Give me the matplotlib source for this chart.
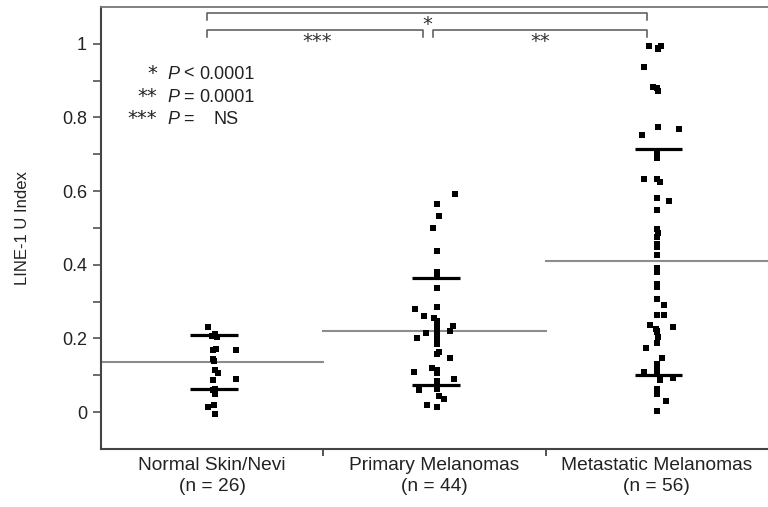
import matplotlib
matplotlib.use("Agg")
import matplotlib.pyplot as plt
import numpy as np

plt.rcParams['font.family'] = ['Liberation Sans', 'DejaVu Sans']

# categories
categories = ["Normal Skin/Nevi", "Primary Melanomas", "Metastatic Melanomas"]
n_counts = [26, 44, 56]

# LINE-1 U index values, with small horizontal jitter (group units)
normal_vals = [0.232, 0.212, 0.205, 0.208, 0.170, 0.172, 0.168, 0.143, 0.138, 0.114,
               0.107, 0.087, 0.090, 0.064, 0.060, 0.049, 0.013, 0.019, -0.004]
normal_dx = [-0.018, 0.014, 0.023, 0.0, 0.005, 0.018, 0.108, 0.005, 0.009, 0.014,
             0.027, 0.005, 0.108, 0.014, 0.005, 0.014, -0.018, 0.009, 0.014]

primary_vals = [0.592, 0.565, 0.533, 0.501, 0.437, 0.381, 0.370, 0.336, 0.286, 0.279,
                0.261, 0.255, 0.248, 0.232, 0.235, 0.221, 0.216, 0.218, 0.207, 0.200,
                0.191, 0.185, 0.164, 0.158, 0.148, 0.110, 0.120, 0.114, 0.107, 0.090,
                0.085, 0.077, 0.060, 0.062, 0.043, 0.035, 0.019, 0.013]
primary_dx = [0.092, 0.010, 0.020, -0.005, 0.010, 0.010, 0.010, 0.010, 0.013, -0.088,
              -0.046, 0.000, 0.013, 0.010, 0.082, 0.070, -0.040, 0.010, 0.010, -0.080,
              0.010, 0.013, 0.020, 0.013, 0.070, -0.091, -0.013, 0.010, 0.010, 0.089,
              0.010, 0.010, -0.070, 0.010, 0.020, 0.044, -0.035, 0.010]

metastatic_vals = [0.993, 0.990, 0.995, 0.985, 0.937, 0.882, 0.879, 0.872, 0.774, 0.769,
                   0.753, 0.705, 0.689, 0.632, 0.632, 0.626, 0.581, 0.574, 0.549, 0.496,
                   0.486, 0.475, 0.457, 0.449, 0.427, 0.392, 0.381, 0.347, 0.339, 0.307,
                   0.291, 0.264, 0.264, 0.236, 0.232, 0.226, 0.220, 0.218, 0.205, 0.188,
                   0.175, 0.146, 0.132, 0.119, 0.108, 0.105, 0.087, 0.094, 0.062, 0.049,
                   0.031, 0.004]
metastatic_dx = [-0.035, 0.004, 0.019, 0.006, -0.056, -0.016, 0.002, 0.004, 0.004, 0.101,
                 -0.068, 0.002, 0.002, -0.056, 0.002, 0.014, 0.002, 0.056, 0.002, 0.002,
                 0.007, 0.002, 0.002, 0.002, 0.002, 0.002, 0.002, 0.002, 0.002, 0.002,
                 0.032, 0.000, 0.032, -0.031, 0.074, -0.004, 0.002, 0.000, 0.004, 0.002,
                 -0.050, 0.022, 0.002, 0.002, -0.056, 0.002, 0.014, 0.074, 0.002, 0.002,
                 0.041, 0.002]

# summary lines per group
group_means = [0.137, 0.221, 0.410]
upper_bars = [0.209, 0.363, 0.714]
lower_bars = [0.064, 0.075, 0.100]

# significance annotations
legend_stars = ["*", "**", "***"]
legend_ops = ["<", "=", "="]
legend_vals = ["0.0001", "0.0001", "NS"]

fig = plt.figure(figsize=(7.68, 5.07), dpi=100)
ax = fig.add_axes([0.1315, 0.1144, 0.8685, 0.8718])

spine_col = '#444444'
txt_col = '#222222'
star_font = ['DejaVu Sans']
vals_all = [normal_vals, primary_vals, metastatic_vals]
dx_all = [normal_dx, primary_dx, metastatic_dx]

for i in range(3):
    c = i + 0.5
    ax.plot([i, i + 1], [group_means[i]] * 2, color='#8c8c8c', lw=1.5, zorder=1)
    for q in (upper_bars[i], lower_bars[i]):
        ax.plot([c - 0.1, c + 0.115], [q, q], color='black', lw=2.3, zorder=2,
                solid_capstyle='butt')
    x = c + np.array(dx_all[i])
    ax.scatter(x, vals_all[i], marker='s', s=15, color='black', linewidths=0, zorder=3)

ax.set_xlim(0, 3)
ax.set_ylim(-0.1, 1.1)

# y axis
ax.set_yticks([0, 0.2, 0.4, 0.6, 0.8, 1.0])
ax.set_yticklabels(['0', '0.2', '0.4', '0.6', '0.8', '1'])
ax.set_yticks(np.arange(0.1, 1.1, 0.2), minor=True)
ax.tick_params(axis='y', which='both', length=6, width=1.1, color=spine_col,
               labelsize=13, pad=4, labelcolor=txt_col)
ax.set_ylabel("LINE-1 U Index", fontsize=12, labelpad=23, color=txt_col)

# x axis
ax.set_xticks([0.5, 1.5, 2.5])
ax.set_xticklabels([f"{c}\n(n = {n})" for c, n in zip(categories, n_counts)],
                   fontsize=13.8, linespacing=1.25, color=txt_col)
ax.tick_params(axis='x', which='major', length=0, pad=6)
ax.set_xticks([1, 2], minor=True)
ax.tick_params(axis='x', which='minor', length=5, width=1.3, color=spine_col)

for s in ('left', 'bottom'):
    ax.spines[s].set_color(spine_col)
    ax.spines[s].set_linewidth(1.5)
ax.spines['top'].set_color('#777777')
ax.spines['top'].set_linewidth(1.3)
ax.spines['right'].set_visible(False)

# brackets
br_col = '#555555'
def bracket(x0, x1, y, drop):
    ax.plot([x0, x0, x1, x1], [y - drop, y, y, y - drop], color=br_col, lw=1.1,
            clip_on=False, zorder=4)

bracket(0.477, 2.456, 1.084, 0.02)
bracket(0.477, 1.449, 1.038, 0.02)
bracket(1.494, 2.456, 1.038, 0.02)
ax.text(1.467, 1.079, "*", ha='center', va='top', fontsize=14, color='#333333',
        family=star_font)
ax.text(0.972, 1.031, "***", ha='center', va='top', fontsize=14, color='#333333',
        family=star_font)
ax.text(1.975, 1.031, "**", ha='center', va='top', fontsize=14, color='#333333',
        family=star_font)

# p-value key
key_y = [0.905, 0.842, 0.782]
for yk, st, op, v in zip(key_y, legend_stars, legend_ops, legend_vals):
    ax.text(0.252, yk, st, ha='right', va='baseline', fontsize=14, color=txt_col,
            family=star_font)
    ax.text(0.298, yk, "P", ha='left', va='baseline', fontsize=13, style='italic',
            color=txt_col)
    ax.text(0.37, yk, op, ha='left', va='baseline', fontsize=13, color=txt_col)
    xv = 0.504 if v == "NS" else 0.44
    ax.text(xv, yk, v, ha='left', va='baseline', fontsize=13, color=txt_col)

fig.savefig("out.png", dpi=100)
